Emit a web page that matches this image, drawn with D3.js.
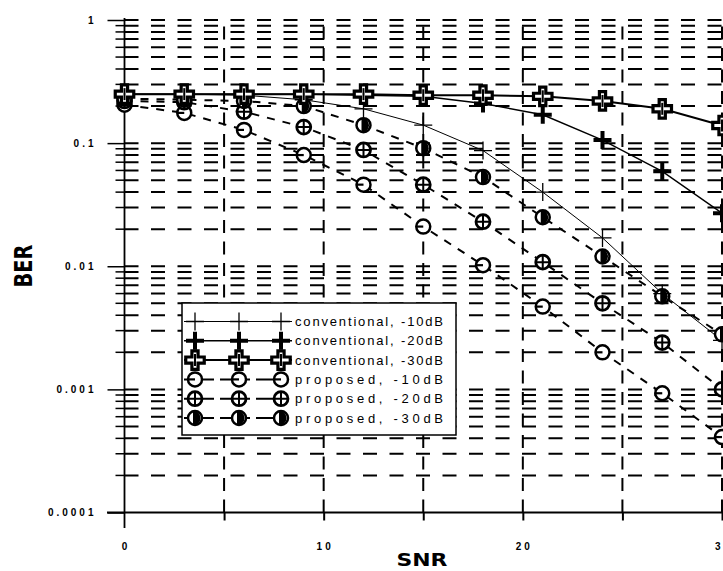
<!DOCTYPE html>
<html>
<head>
<meta charset="utf-8">
<script src="https://cdn.jsdelivr.net/npm/d3@7"></script>
<style>
  body { margin: 0; background: #fff; }
</style>
</head>
<body>
<div id="chart"></div>
<script>
// chart values
var snr = [0, 3, 6, 9, 12, 15, 18, 21, 24, 27, 30];
var conv10 = [0.25, 0.25, 0.245, 0.225, 0.19, 0.14, 0.087, 0.04, 0.017, 0.006, 0.0025];
var conv20 = [0.25, 0.25, 0.25, 0.25, 0.245, 0.24, 0.21, 0.17, 0.106, 0.059, 0.027];
var conv30 = [0.25, 0.25, 0.25, 0.25, 0.25, 0.245, 0.245, 0.24, 0.22, 0.19, 0.139];
var prop10 = [0.205, 0.176, 0.128, 0.08, 0.046, 0.021, 0.0102, 0.0047, 0.002, 0.00093, 0.00041];
var prop20 = [0.22, 0.215, 0.18, 0.135, 0.088, 0.046, 0.023, 0.0108, 0.005, 0.0024, 0.001];
var prop30 = [0.23, 0.225, 0.22, 0.2, 0.14, 0.091, 0.053, 0.025, 0.012, 0.0057, 0.0028];

var seriesNames = ["conventional, -10dB", "conventional, -20dB", "conventional, -30dB",
                   "proposed, -10dB", "proposed, -20dB", "proposed, -30dB"];

var yTicks = [1, 0.1, 0.01, 0.001, 0.0001];
var yTickLabels = ["1", "0.1", "0.01", "0.001", "0.0001"];
var xTicks = [0, 10, 20, 30];
var xTickLabels = ["0", "10", "20", "30"];
var xGridValues = [5, 10, 15, 20, 25, 30];

var svgWidth = 723;
var svgHeight = 571;

var margin = {
  top: 20,
  left: 124.5
};

var width = 597.5;
var height = 492.5;

var svg = d3.select("#chart")
  .append("svg")
  .attr("width", svgWidth)
  .attr("height", svgHeight);

var chartGroup = svg.append("g")
  .attr("transform", `translate(${margin.left}, ${margin.top})`);

var xScale = d3.scaleLinear().domain([0, 30]).range([0, width]);
var yScale = d3.scaleLog().domain([0.0001, 1]).range([height, 0]);

function isDecade(v) {
  var l = Math.log10(v);
  return Math.abs(l - Math.round(l)) < 1e-6;
}

// horizontal dashed grid, one line per log tick
var hGrid = yScale.ticks().filter(v => v > 0.00015);
chartGroup.append("g").selectAll("line")
  .data(hGrid)
  .enter()
  .append("line")
  .attr("x1", 0)
  .attr("x2", width + 10)
  .attr("y1", d => yScale(d))
  .attr("y2", d => yScale(d))
  .attr("stroke", "#000")
  .attr("stroke-width", 2)
  .attr("stroke-dasharray", "14,12.5");

// vertical dashed grid
chartGroup.append("g").selectAll("line")
  .data(xGridValues)
  .enter()
  .append("line")
  .attr("x1", d => xScale(d))
  .attr("x2", d => xScale(d))
  .attr("y1", height)
  .attr("y2", 0)
  .attr("stroke", "#000")
  .attr("stroke-width", 2)
  .attr("stroke-dasharray", "13,8.5");

// y axis
var leftAxis = d3.axisLeft(yScale)
  .tickValues(yTicks)
  .tickFormat((d, i) => yTickLabels[i])
  .tickSize(17)
  .tickPadding(11);

var yAxis = chartGroup.append("g").call(leftAxis);
yAxis.select(".domain").remove();
yAxis.selectAll("line").attr("stroke-width", 1.5);
yAxis.selectAll("text")
  .attr("font-family", "Liberation Sans, Arial, sans-serif")
  .attr("font-weight", "bold")
  .attr("font-size", 10)
  .attr("letter-spacing", "3px")
  .attr("fill", "#000");

// minor ticks on y axis
chartGroup.append("g").selectAll("line")
  .data(hGrid.filter(v => !isDecade(v)))
  .enter()
  .append("line")
  .attr("x1", -9)
  .attr("x2", 0)
  .attr("y1", d => yScale(d))
  .attr("y2", d => yScale(d))
  .attr("stroke", "#000")
  .attr("stroke-width", 1.5);

chartGroup.append("line")
  .attr("x1", 0).attr("x2", 0)
  .attr("y1", -2).attr("y2", height + 15.5)
  .attr("stroke", "#000")
  .attr("stroke-width", 1.8);

// x axis
var bottomAxis = d3.axisBottom(xScale)
  .tickValues(xGridValues)
  .tickSize(8)
  .tickFormat("");

var xAxis = chartGroup.append("g")
  .attr("transform", `translate(0, ${height})`)
  .call(bottomAxis);
xAxis.select(".domain").remove();
xAxis.selectAll("line").attr("stroke-width", 2);

chartGroup.append("line")
  .attr("x1", -17.5).attr("x2", width + 10)
  .attr("y1", height).attr("y2", height)
  .attr("stroke", "#000")
  .attr("stroke-width", 1.8);

chartGroup.append("g").selectAll("text")
  .data(xTicks)
  .enter()
  .append("text")
  .attr("x", d => xScale(d) + 1.5)
  .attr("y", height + 37.5)
  .attr("text-anchor", "middle")
  .attr("font-family", "Liberation Sans, Arial, sans-serif")
  .attr("font-weight", "bold")
  .attr("font-size", 10)
  .attr("letter-spacing", "3px")
  .text((d, i) => xTickLabels[i]);

// axis titles
svg.append("text")
  .attr("x", 422)
  .attr("y", 566)
  .attr("text-anchor", "middle")
  .attr("font-family", "DejaVu Sans, sans-serif")
  .attr("font-weight", "bold")
  .attr("font-size", 17)
  .attr("textLength", 51)
  .attr("lengthAdjust", "spacingAndGlyphs")
  .text("SNR");

svg.append("text")
  .attr("transform", "translate(32, 266) rotate(-90)")
  .attr("text-anchor", "middle")
  .attr("font-family", "DejaVu Sans, sans-serif")
  .attr("font-weight", "bold")
  .attr("font-size", 24)
  .attr("textLength", 43)
  .attr("lengthAdjust", "spacingAndGlyphs")
  .text("BER");

// marker drawing
function drawMarker(g, type) {
  if (type === "thinPlus") {
    g.append("path").attr("d", "M-9,0H9M0,-9V9")
      .attr("stroke", "#000").attr("stroke-width", 1.3).attr("fill", "none");
  } else if (type === "thickPlus") {
    g.append("path").attr("d", "M-9,0H9M0,-9V9")
      .attr("stroke", "#000").attr("stroke-width", 4).attr("fill", "none");
  } else if (type === "hollowCross") {
    g.append("path").attr("d", d3.symbol(d3.symbolCross, 190)())
      .attr("stroke", "#000").attr("stroke-width", 3.2).attr("fill", "#fff");
    g.append("path").attr("d", "M0,-6V6")
      .attr("stroke", "#000").attr("stroke-width", 2);
  } else if (type === "circleBar") {
    g.append("circle").attr("r", 7)
      .attr("stroke", "#000").attr("stroke-width", 2.5).attr("fill", "#fff");
    g.append("path").attr("d", "M-7,0H0")
      .attr("stroke", "#000").attr("stroke-width", 2.2);
  } else if (type === "circlePlus") {
    g.append("circle").attr("r", 7)
      .attr("stroke", "#000").attr("stroke-width", 2.8).attr("fill", "#fff");
    g.append("path").attr("d", "M-7,0H7M0,-7V7")
      .attr("stroke", "#000").attr("stroke-width", 2);
  } else if (type === "circleHalf") {
    g.append("circle").attr("r", 7)
      .attr("stroke", "#000").attr("stroke-width", 2.5).attr("fill", "#fff");
    g.append("path").attr("d", "M-2,-7.5A7.5,7.5 0 1 1 -2,7.5Z")
      .attr("fill", "#000");
  }
}

var seriesList = [
  { name: seriesNames[0], values: conv10, marker: "thinPlus", width: 1, dash: null },
  { name: seriesNames[1], values: conv20, marker: "thickPlus", width: 1.4, dash: null },
  { name: seriesNames[2], values: conv30, marker: "hollowCross", width: 2, dash: null },
  { name: seriesNames[3], values: prop10, marker: "circleBar", width: 2, dash: "8,8" },
  { name: seriesNames[4], values: prop20, marker: "circlePlus", width: 2, dash: "8,8" },
  { name: seriesNames[5], values: prop30, marker: "circleHalf", width: 2, dash: "8,8" }
];

var line = d3.line()
  .x(d => xScale(d.snr))
  .y(d => yScale(d.ber));

seriesList.forEach(function(s) {
  s.points = snr.map((v, i) => ({ snr: v, ber: s.values[i] }));
  chartGroup.append("path")
    .datum(s.points)
    .attr("d", line)
    .attr("fill", "none")
    .attr("stroke", "#000")
    .attr("stroke-width", s.width)
    .attr("stroke-dasharray", s.dash);
});

// proposed markers first, conventional on top
[3, 4, 5, 0, 1, 2].forEach(function(k) {
  var s = seriesList[k];
  chartGroup.append("g").selectAll("g")
    .data(s.points)
    .enter()
    .append("g")
    .attr("transform", d => `translate(${xScale(d.snr)}, ${yScale(d.ber)})`)
    .each(function() { drawMarker(d3.select(this), s.marker); });
});

// legend
var legend = svg.append("g");
legend.append("rect")
  .attr("x", 182)
  .attr("y", 303)
  .attr("width", 274)
  .attr("height", 132)
  .attr("fill", "#fff")
  .attr("stroke", "#000")
  .attr("stroke-width", 1.5);

var sampleX = [195, 239, 281];
seriesList.forEach(function(s, i) {
  var rowY = 321.5 + i * 19.3;
  legend.append("line")
    .attr("x1", 184).attr("x2", 292)
    .attr("y1", rowY).attr("y2", rowY)
    .attr("stroke", "#000")
    .attr("stroke-width", s.width)
    .attr("stroke-dasharray", s.dash ? "30,6" : null);
  sampleX.forEach(function(mx) {
    drawMarker(legend.append("g").attr("transform", `translate(${mx}, ${rowY})`), s.marker);
  });
  legend.append("text")
    .attr("x", 295)
    .attr("y", rowY + 4.5)
    .attr("font-family", "Liberation Sans, Arial, sans-serif")
    .attr("font-size", 13)
    .attr("textLength", 148)
    .attr("lengthAdjust", "spacing")
    .text(s.name);
});
</script>
</body>
</html>
